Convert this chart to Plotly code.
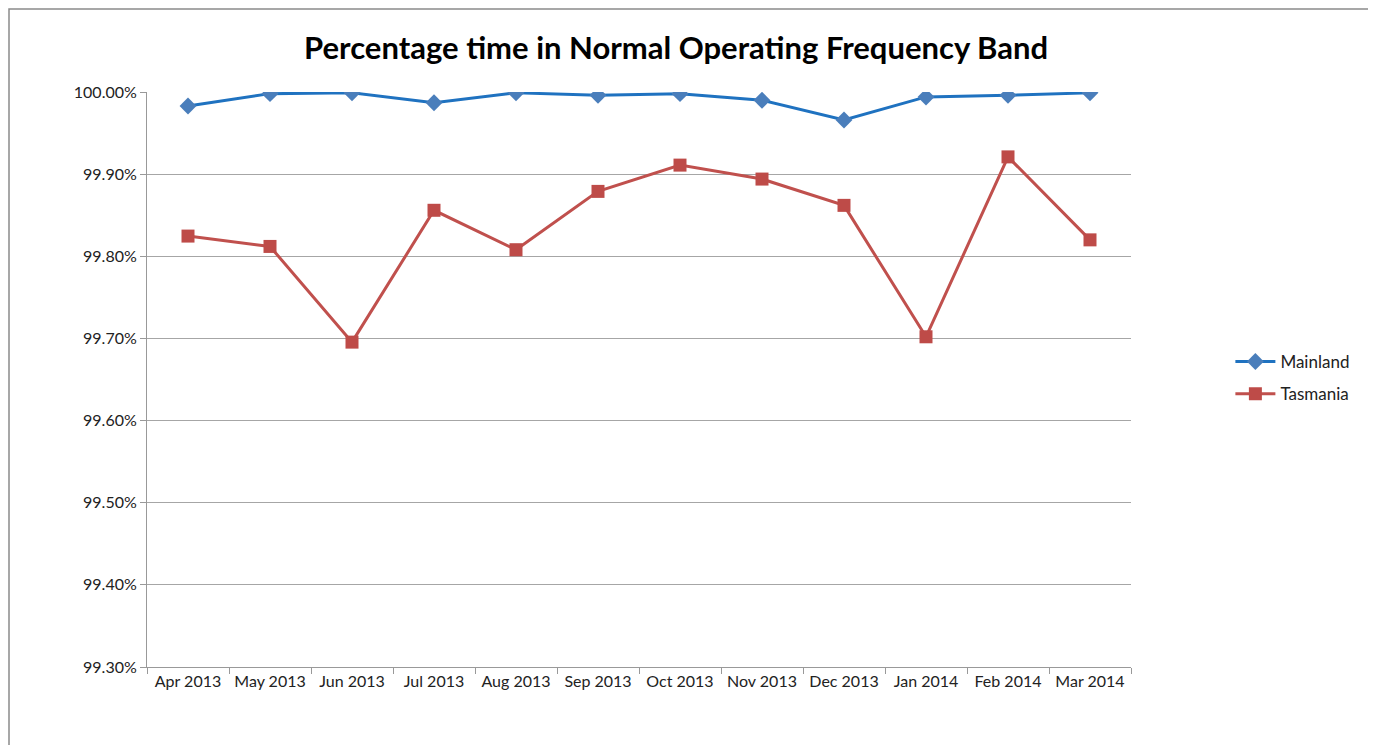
import plotly.graph_objects as go

months = ["Apr 2013", "May 2013", "Jun 2013", "Jul 2013", "Aug 2013", "Sep 2013",
          "Oct 2013", "Nov 2013", "Dec 2013", "Jan 2014", "Feb 2014", "Mar 2014"]
mainland = [99.983, 99.998, 99.999, 99.987, 99.999, 99.996,
            99.998, 99.990, 99.966, 99.994, 99.996, 99.999]
tasmania = [99.8246, 99.812, 99.6955, 99.856, 99.808, 99.879,
            99.911, 99.894, 99.862, 99.702, 99.921, 99.820]
y_ticks = [99.30, 99.40, 99.50, 99.60, 99.70, 99.80, 99.90, 100.00]
y_tick_text = ["99.30%", "99.40%", "99.50%", "99.60%", "99.70%", "99.80%", "99.90%", "100.00%"]

FONT = "Lato, 'Open Sans', sans-serif"

fig = go.Figure()
fig.add_trace(go.Scatter(
    x=months, y=mainland, name="Mainland", mode="lines+markers", legendgroup="m",
    line=dict(color="#1f72c0", width=3),
    marker=dict(symbol="diamond", size=13, color="#4a7ebb"),
))
fig.add_trace(go.Scatter(
    x=months, y=tasmania, name="Tasmania", mode="lines+markers", legendgroup="t",
    line=dict(color="#c0504d", width=3),
    marker=dict(symbol="square", size=13, color="#be4b48"),
))

fig.update_layout(
    width=1376, height=745,
    paper_bgcolor="white", plot_bgcolor="white",
    margin=dict(l=139, r=253, t=84, b=86, autoexpand=False),
    title=dict(text="<b>Percentage time in Normal Operating Frequency Band</b>",
               x=0.4855, xanchor="center", y=0.946, yanchor="middle",
               font=dict(family=FONT, size=31, color="black")),
    font=dict(family=FONT, size=16, color="#222"),
    legend=dict(x=1.101, y=0.5026, xanchor="left", yanchor="middle",
                font=dict(size=17, color="#222"), tracegroupgap=7,
                itemwidth=40),
    showlegend=True,
)
fig.update_xaxes(
    type="category", range=[-0.5, 11.5], autorange=False, automargin=False,
    tickson="boundaries", ticks="outside", ticklen=6, tickangle=0,
    tickcolor="#999", showline=True, linecolor="#999", linewidth=1,
    showgrid=False, tickfont=dict(size=16, color="#222"),
)
fig.update_yaxes(
    range=[99.30, 100.00], autorange=False, automargin=False,
    tickvals=y_ticks, ticktext=y_tick_text,
    ticks="outside", ticklen=6, tickcolor="#999",
    showline=True, linecolor="#999", linewidth=1,
    showgrid=True, gridcolor="#a6a6a6", gridwidth=1,
    tickfont=dict(size=16, color="#222"), zeroline=False,
)
# outer chart border (as close to the page edge as the figure allows)
fig.add_shape(type="rect", xref="paper", yref="paper",
              x0=(1 - 139) / 984, x1=(1362 - 139) / 984,
              y0=-0.16, y1=(659 - 1) / 575,
              line=dict(color="#8a8a8a", width=1.5), fillcolor="rgba(0,0,0,0)",
              layer="below")

fig.write_html("out.html")
